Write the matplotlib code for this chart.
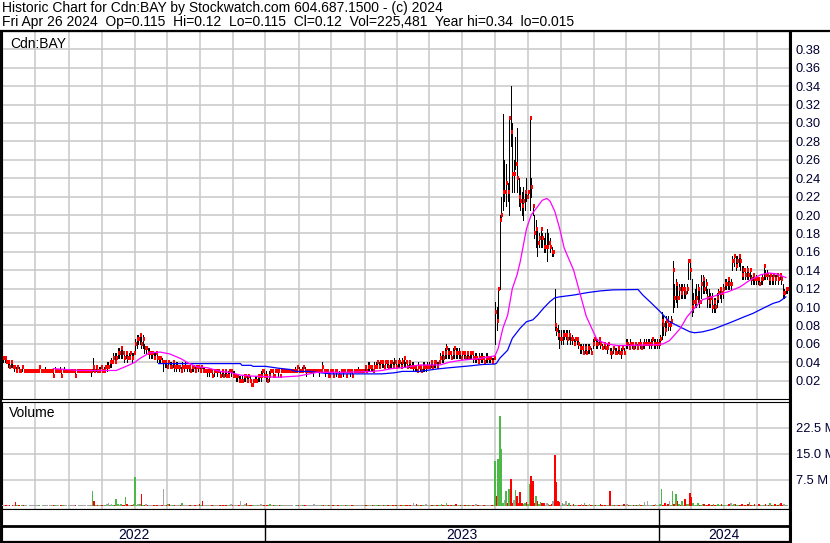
import numpy as np
import matplotlib
matplotlib.use("Agg")
import matplotlib.pyplot as plt
from matplotlib.lines import Line2D
from matplotlib.ticker import FormatStrFormatter

plt.rcParams['font.family'] = ['Liberation Sans', 'DejaVu Sans']

# daily bars, Apr 2022 -> Apr 26 2024 (one row = 10 trading days)
cl = [0.045,0.045,0.04,0.04,0.035,0.04,0.035,0.035,0.03,0.035,
      0.03,0.03,0.035,0.03,0.03,0.03,0.03,0.03,0.03,0.03,
      0.03,0.03,0.03,0.035,0.03,0.03,0.03,0.03,0.03,0.03,
      0.03,0.03,0.025,0.03,0.03,0.03,0.03,0.025,0.03,0.03,
      0.03,0.03,0.03,0.03,0.03,0.03,0.025,0.03,0.03,0.03,
      0.03,0.03,0.03,0.03,0.03,0.03,0.03,0.035,0.03,0.035,
      0.03,0.03,0.035,0.03,0.03,0.035,0.035,0.035,0.04,0.04,
      0.045,0.04,0.045,0.05,0.05,0.055,0.05,0.045,0.05,0.045,
      0.045,0.05,0.045,0.05,0.06,0.065,0.065,0.07,0.06,0.065,
      0.055,0.055,0.05,0.05,0.05,0.05,0.045,0.05,0.045,0.045,
      0.045,0.04,0.04,0.04,0.035,0.04,0.035,0.035,0.04,0.035,
      0.035,0.035,0.035,0.03,0.035,0.035,0.035,0.035,0.035,0.03,
      0.035,0.035,0.03,0.035,0.035,0.03,0.035,0.03,0.03,0.03,
      0.03,0.03,0.03,0.025,0.03,0.03,0.03,0.03,0.025,0.03,
      0.025,0.03,0.025,0.025,0.03,0.03,0.025,0.025,0.025,0.025,
      0.02,0.02,0.02,0.025,0.025,0.02,0.025,0.02,0.015,0.02,
      0.02,0.02,0.025,0.025,0.025,0.03,0.025,0.025,0.02,0.025,
      0.03,0.03,0.025,0.03,0.03,0.03,0.025,0.03,0.03,0.03,
      0.03,0.03,0.03,0.03,0.03,0.03,0.03,0.035,0.03,0.03,
      0.03,0.035,0.03,0.03,0.03,0.03,0.03,0.03,0.03,0.03,
      0.03,0.03,0.03,0.035,0.03,0.03,0.03,0.025,0.03,0.03,
      0.025,0.03,0.03,0.025,0.025,0.03,0.03,0.03,0.025,0.03,
      0.03,0.03,0.025,0.03,0.03,0.03,0.03,0.03,0.03,0.03,
      0.035,0.03,0.035,0.035,0.035,0.03,0.035,0.035,0.04,0.035,
      0.04,0.04,0.035,0.04,0.04,0.035,0.04,0.04,0.035,0.04,
      0.035,0.04,0.04,0.035,0.04,0.045,0.04,0.035,0.04,0.035,
      0.035,0.035,0.035,0.03,0.035,0.035,0.03,0.035,0.035,0.035,
      0.035,0.035,0.04,0.035,0.04,0.04,0.035,0.04,0.045,0.05,
      0.045,0.05,0.055,0.05,0.05,0.045,0.05,0.055,0.05,0.05,
      0.05,0.045,0.05,0.05,0.045,0.05,0.045,0.05,0.05,0.045,
      0.045,0.045,0.04,0.045,0.045,0.045,0.04,0.045,0.045,0.045,
      0.045,0.04,0.045,0.095,0.085,0.12,0.195,0.2,0.225,0.225,
      0.235,0.225,0.305,0.29,0.245,0.245,0.255,0.24,0.22,0.215,
      0.21,0.215,0.225,0.22,0.225,0.305,0.23,0.21,0.18,0.185,
      0.17,0.175,0.185,0.175,0.165,0.165,0.165,0.17,0.165,0.16,
      0.16,0.08,0.075,0.07,0.065,0.065,0.07,0.07,0.07,0.065,
      0.07,0.065,0.065,0.06,0.065,0.065,0.06,0.055,0.055,0.05,
      0.055,0.05,0.055,0.055,0.05,0.06,0.065,0.06,0.06,0.065,
      0.06,0.055,0.06,0.055,0.055,0.06,0.05,0.05,0.055,0.05,
      0.05,0.055,0.05,0.05,0.055,0.05,0.06,0.06,0.055,0.06,
      0.06,0.055,0.06,0.055,0.06,0.06,0.055,0.06,0.06,0.06,
      0.06,0.06,0.06,0.065,0.06,0.06,0.06,0.06,0.065,0.085,
      0.08,0.075,0.085,0.08,0.08,0.085,0.14,0.11,0.125,0.11,
      0.12,0.115,0.12,0.12,0.115,0.12,0.15,0.14,0.1,0.105,
      0.105,0.11,0.12,0.105,0.125,0.13,0.12,0.125,0.11,0.105,
      0.11,0.1,0.105,0.1,0.11,0.115,0.12,0.115,0.12,0.125,
      0.125,0.13,0.125,0.125,0.15,0.155,0.145,0.15,0.155,0.15,
      0.135,0.14,0.135,0.14,0.135,0.14,0.13,0.135,0.13,0.13,
      0.13,0.125,0.13,0.13,0.145,0.135,0.135,0.13,0.135,0.13,
      0.135,0.13,0.135,0.13,0.135,0.13,0.115,0.115,0.12,0.12]

hi = [0.045,0.045,0.045,0.04,0.04,0.04,0.04,0.035,0.035,0.035,
      0.035,0.03,0.035,0.03,0.03,0.03,0.03,0.03,0.03,0.03,
      0.03,0.03,0.03,0.035,0.03,0.03,0.03,0.035,0.03,0.03,
      0.03,0.03,0.03,0.035,0.03,0.03,0.035,0.03,0.03,0.035,
      0.03,0.03,0.03,0.03,0.03,0.03,0.03,0.03,0.03,0.03,
      0.03,0.03,0.03,0.03,0.03,0.03,0.03,0.045,0.035,0.035,
      0.035,0.035,0.035,0.035,0.035,0.035,0.04,0.04,0.04,0.045,
      0.05,0.05,0.05,0.055,0.055,0.055,0.055,0.05,0.05,0.05,
      0.05,0.05,0.05,0.05,0.065,0.07,0.07,0.07,0.07,0.07,
      0.06,0.055,0.055,0.055,0.05,0.05,0.05,0.05,0.05,0.045,
      0.045,0.045,0.04,0.04,0.04,0.04,0.04,0.04,0.04,0.04,
      0.04,0.04,0.035,0.035,0.04,0.035,0.04,0.035,0.035,0.035,
      0.035,0.035,0.035,0.035,0.035,0.035,0.035,0.035,0.035,0.03,
      0.03,0.03,0.03,0.03,0.03,0.03,0.03,0.03,0.03,0.03,
      0.03,0.03,0.03,0.03,0.03,0.03,0.03,0.03,0.025,0.025,
      0.025,0.025,0.025,0.025,0.025,0.025,0.025,0.025,0.02,0.02,
      0.025,0.025,0.025,0.025,0.03,0.03,0.03,0.03,0.025,0.03,
      0.03,0.03,0.03,0.03,0.03,0.03,0.025,0.03,0.03,0.03,
      0.03,0.03,0.03,0.03,0.03,0.03,0.035,0.035,0.035,0.03,
      0.035,0.035,0.035,0.03,0.03,0.03,0.03,0.03,0.03,0.03,
      0.03,0.03,0.03,0.04,0.03,0.03,0.03,0.03,0.03,0.03,
      0.03,0.03,0.03,0.025,0.03,0.03,0.03,0.03,0.025,0.03,
      0.03,0.03,0.03,0.03,0.03,0.03,0.035,0.03,0.03,0.03,
      0.035,0.035,0.04,0.04,0.035,0.035,0.04,0.04,0.04,0.04,
      0.04,0.04,0.04,0.04,0.04,0.04,0.04,0.04,0.04,0.045,
      0.04,0.04,0.045,0.04,0.045,0.045,0.04,0.04,0.04,0.04,
      0.04,0.04,0.035,0.035,0.04,0.035,0.035,0.04,0.04,0.035,
      0.04,0.04,0.04,0.04,0.04,0.04,0.04,0.04,0.05,0.05,
      0.05,0.055,0.06,0.055,0.055,0.05,0.055,0.055,0.055,0.055,
      0.055,0.05,0.05,0.05,0.05,0.05,0.05,0.05,0.05,0.05,
      0.05,0.05,0.045,0.05,0.05,0.05,0.045,0.05,0.05,0.045,
      0.045,0.045,0.045,0.105,0.1,0.12,0.2,0.22,0.31,0.26,
      0.255,0.235,0.305,0.34,0.3,0.26,0.285,0.295,0.24,0.23,
      0.225,0.23,0.225,0.24,0.225,0.305,0.24,0.21,0.2,0.195,
      0.185,0.18,0.185,0.18,0.175,0.18,0.185,0.18,0.175,0.165,
      0.16,0.12,0.08,0.08,0.075,0.075,0.075,0.075,0.075,0.075,
      0.075,0.07,0.07,0.065,0.065,0.065,0.065,0.06,0.06,0.06,
      0.06,0.06,0.06,0.06,0.055,0.065,0.065,0.065,0.065,0.065,
      0.065,0.06,0.06,0.06,0.06,0.06,0.055,0.055,0.055,0.055,
      0.055,0.055,0.055,0.055,0.055,0.055,0.065,0.065,0.06,0.065,
      0.06,0.06,0.06,0.06,0.06,0.065,0.06,0.06,0.065,0.065,
      0.065,0.065,0.065,0.065,0.065,0.065,0.065,0.065,0.07,0.095,
      0.09,0.085,0.09,0.09,0.085,0.09,0.15,0.125,0.13,0.125,
      0.125,0.125,0.125,0.125,0.12,0.125,0.15,0.15,0.13,0.115,
      0.12,0.125,0.125,0.12,0.135,0.135,0.13,0.13,0.12,0.12,
      0.115,0.115,0.11,0.11,0.115,0.12,0.12,0.12,0.125,0.13,
      0.13,0.13,0.13,0.13,0.155,0.155,0.155,0.155,0.155,0.155,
      0.145,0.145,0.14,0.145,0.14,0.14,0.135,0.135,0.135,0.135,
      0.13,0.13,0.13,0.135,0.145,0.14,0.14,0.135,0.135,0.135,
      0.135,0.135,0.135,0.135,0.135,0.135,0.125,0.12,0.12,0.12]

lo = [0.04,0.04,0.04,0.035,0.035,0.035,0.035,0.03,0.03,0.03,
      0.03,0.03,0.03,0.03,0.03,0.03,0.03,0.03,0.03,0.03,
      0.03,0.03,0.03,0.03,0.03,0.03,0.03,0.03,0.03,0.03,
      0.03,0.03,0.025,0.03,0.03,0.03,0.03,0.025,0.03,0.03,
      0.03,0.03,0.03,0.03,0.03,0.03,0.025,0.03,0.03,0.03,
      0.03,0.03,0.03,0.03,0.03,0.03,0.025,0.03,0.03,0.03,
      0.03,0.03,0.03,0.03,0.03,0.03,0.03,0.035,0.035,0.035,
      0.04,0.04,0.04,0.045,0.045,0.045,0.045,0.04,0.045,0.04,
      0.045,0.045,0.04,0.045,0.05,0.055,0.06,0.06,0.055,0.055,
      0.05,0.05,0.05,0.045,0.045,0.045,0.045,0.045,0.04,0.04,
      0.04,0.04,0.03,0.035,0.035,0.035,0.035,0.035,0.035,0.03,
      0.03,0.035,0.03,0.03,0.03,0.03,0.035,0.03,0.03,0.03,
      0.03,0.03,0.03,0.03,0.03,0.03,0.03,0.03,0.03,0.03,
      0.025,0.025,0.03,0.025,0.025,0.03,0.025,0.03,0.025,0.025,
      0.025,0.025,0.025,0.025,0.025,0.025,0.025,0.025,0.02,0.02,
      0.02,0.02,0.02,0.02,0.02,0.02,0.02,0.02,0.015,0.015,
      0.02,0.02,0.02,0.02,0.02,0.025,0.025,0.02,0.02,0.02,
      0.025,0.03,0.025,0.03,0.03,0.025,0.025,0.03,0.03,0.03,
      0.03,0.03,0.03,0.03,0.03,0.03,0.03,0.03,0.03,0.03,
      0.03,0.03,0.03,0.025,0.03,0.03,0.03,0.025,0.03,0.03,
      0.03,0.025,0.03,0.03,0.03,0.025,0.03,0.025,0.03,0.03,
      0.025,0.03,0.025,0.025,0.025,0.03,0.025,0.03,0.025,0.03,
      0.03,0.025,0.025,0.03,0.03,0.03,0.03,0.03,0.03,0.03,
      0.03,0.03,0.03,0.03,0.03,0.03,0.03,0.035,0.035,0.035,
      0.035,0.035,0.035,0.035,0.035,0.035,0.035,0.035,0.035,0.035,
      0.035,0.035,0.035,0.035,0.035,0.035,0.035,0.035,0.035,0.035,
      0.035,0.03,0.03,0.03,0.03,0.03,0.03,0.03,0.03,0.03,
      0.035,0.035,0.035,0.035,0.035,0.035,0.035,0.035,0.04,0.04,
      0.04,0.045,0.045,0.045,0.045,0.045,0.045,0.045,0.045,0.045,
      0.045,0.045,0.045,0.045,0.045,0.045,0.045,0.045,0.045,0.04,
      0.04,0.04,0.04,0.04,0.04,0.04,0.04,0.04,0.04,0.04,
      0.04,0.04,0.04,0.06,0.075,0.085,0.12,0.195,0.205,0.215,
      0.21,0.215,0.2,0.275,0.225,0.225,0.25,0.225,0.21,0.205,
      0.2,0.195,0.205,0.215,0.22,0.205,0.22,0.2,0.175,0.165,
      0.155,0.165,0.165,0.165,0.16,0.16,0.15,0.165,0.16,0.155,
      0.155,0.075,0.07,0.065,0.055,0.06,0.06,0.065,0.065,0.06,
      0.065,0.06,0.06,0.06,0.06,0.06,0.055,0.05,0.05,0.05,
      0.05,0.05,0.05,0.05,0.05,0.055,0.06,0.055,0.055,0.06,
      0.055,0.055,0.055,0.055,0.05,0.055,0.05,0.045,0.05,0.05,
      0.05,0.05,0.05,0.045,0.05,0.05,0.055,0.055,0.055,0.055,
      0.055,0.055,0.055,0.055,0.055,0.055,0.055,0.055,0.055,0.06,
      0.06,0.055,0.055,0.06,0.055,0.055,0.055,0.055,0.06,0.065,
      0.07,0.07,0.075,0.075,0.075,0.08,0.095,0.1,0.105,0.1,
      0.11,0.11,0.11,0.11,0.11,0.115,0.13,0.13,0.09,0.095,
      0.1,0.1,0.105,0.1,0.11,0.115,0.115,0.115,0.1,0.1,
      0.1,0.095,0.095,0.095,0.1,0.105,0.11,0.105,0.11,0.12,
      0.12,0.12,0.12,0.12,0.14,0.145,0.14,0.145,0.145,0.14,
      0.13,0.13,0.13,0.13,0.13,0.13,0.125,0.125,0.125,0.125,
      0.125,0.125,0.125,0.125,0.13,0.13,0.13,0.125,0.125,0.125,
      0.125,0.125,0.13,0.125,0.13,0.125,0.11,0.11,0.115,0.115]

# volume in millions of shares
vol = [0.3,0.2,0.2,0.3,0.2,0.1,0.2,0.3,1.1,0.2,
       0.2,0.1,0.3,0.2,0.2,0.3,0.1,0.2,0.2,0.3,
       0.2,0.2,0.3,0.2,0.1,0.2,0.4,0.2,0.2,0.1,
       0.2,0.3,0.2,0.2,0.4,0.2,0.1,0.2,0.3,0.2,
       0.2,0.1,0.2,0.2,0.3,0.2,0.2,0.1,0.2,0.2,
       0.2,0.3,0.2,0.1,0.2,0.3,0.2,4.2,1.3,0.3,
       0.2,0.3,0.2,0.4,0.2,0.3,0.6,0.9,0.3,0.5,
       0.4,0.3,2.1,0.6,0.3,0.5,0.4,0.3,2.5,0.6,
       0.3,0.4,0.3,0.5,8.3,0.4,0.6,0.7,3.5,0.4,
       0.3,0.5,0.3,0.2,0.4,0.3,0.2,0.3,0.2,0.4,
       0.3,0.2,5.0,0.3,0.4,0.6,0.7,0.3,0.2,0.3,
       0.2,0.3,0.2,0.3,0.8,0.3,0.2,0.3,0.2,0.3,
       0.2,0.3,0.4,0.2,0.3,0.6,0.3,1.3,0.4,0.2,
       0.2,0.3,0.2,0.3,0.2,0.4,0.2,0.3,0.2,0.3,
       0.4,0.3,0.2,0.3,0.2,0.5,0.3,0.2,0.4,0.3,
       0.2,1.3,0.3,0.4,0.5,0.8,0.4,0.3,0.2,0.3,
       0.2,0.3,0.2,0.4,0.6,0.3,0.2,0.3,0.2,0.3,
       0.6,0.2,0.3,0.2,0.3,0.2,0.2,0.3,0.2,0.2,
       0.3,0.2,0.2,0.3,0.2,0.1,0.2,0.3,0.2,0.2,
       0.3,0.2,0.3,0.2,0.2,0.3,0.2,0.2,0.7,0.2,
       0.2,0.3,0.2,0.3,0.2,0.2,0.3,0.2,0.2,0.3,
       0.2,0.2,0.3,0.2,0.3,0.2,0.2,0.3,0.2,0.2,
       0.3,0.2,0.2,0.3,0.2,0.4,0.2,0.3,0.2,0.4,
       0.2,0.3,0.2,0.4,0.3,0.2,0.3,0.2,0.3,0.2,
       0.3,0.2,0.3,0.2,0.4,0.2,0.3,0.2,0.2,0.3,
       0.2,0.3,0.2,0.3,0.2,0.4,0.3,0.2,0.3,0.2,
       0.3,0.8,0.2,0.5,0.3,0.2,0.3,0.2,0.3,0.5,
       0.2,0.3,0.2,0.4,0.2,0.3,0.2,0.3,0.3,0.5,
       0.3,0.4,0.9,0.3,0.4,0.3,0.2,0.3,0.6,0.3,
       0.2,0.3,0.4,0.2,0.3,0.2,0.3,0.2,0.3,0.2,
       0.3,0.5,0.2,0.3,0.2,0.3,0.2,0.3,0.2,0.3,
       0.3,0.2,0.4,13.1,3.0,13.5,26.0,16.3,1.0,1.8,
       4.4,0.8,4.9,7.9,1.0,1.8,4.7,2.8,0.9,4.0,
       0.8,0.6,0.9,1.1,0.7,6.3,8.6,7.3,0.8,3.0,
       1.5,0.6,1.2,0.8,0.9,0.4,0.9,0.5,0.4,0.6,
       1.3,14.6,6.9,1.5,1.1,0.4,0.9,0.5,1.5,0.4,
       0.8,0.3,0.4,0.6,0.3,0.2,0.4,0.3,0.6,0.3,
       0.8,0.4,0.3,0.6,0.3,0.2,0.3,0.4,0.2,0.3,
       0.5,0.3,0.2,0.3,0.2,0.3,4.2,0.3,0.4,0.2,
       0.3,0.2,0.4,0.3,0.2,0.5,0.3,0.7,0.2,0.3,
       0.2,0.3,0.4,0.2,0.3,0.7,0.3,0.4,1.1,0.3,
       1.5,0.3,0.4,0.2,0.3,0.6,0.4,0.3,0.5,5.0,
       0.4,0.8,0.3,0.6,1.4,0.3,4.4,0.5,3.5,1.3,
       0.6,0.3,1.5,0.4,2.1,0.5,0.6,3.7,2.5,0.8,
       0.4,0.3,1.0,0.4,0.3,0.5,0.6,0.3,0.4,0.5,
       0.3,0.4,0.6,0.3,0.4,0.5,0.3,0.7,0.4,0.3,
       0.4,0.3,0.5,0.8,0.4,0.5,0.6,0.3,0.4,0.3,
       0.5,0.3,0.4,0.3,0.6,1.2,0.4,0.3,0.5,0.3,
       0.4,0.6,0.3,0.4,0.3,0.5,0.4,0.3,0.8,0.4,
       0.3,0.5,0.4,0.3,0.6,0.9,0.4,0.5,0.3,0.2]

# moving averages (trading-day index, price)
ma_fast_day = [32, 49, 72, 79, 84, 87, 93, 100, 106, 113, 118, 123, 130, 138, 144, 151, 157, 165, 175, 188,
               194, 200, 218, 235, 241, 247, 254, 265, 278, 284, 291, 297, 303, 310, 313, 315, 318, 321, 324, 327,
               329, 331, 333, 336, 340, 343, 346, 348, 351, 354, 357, 363, 367, 371, 375, 378, 384, 391, 416, 420,
               424, 431, 435, 440, 445, 451, 456, 462, 469, 475, 482, 487, 492, 495, 498]
ma_fast_val = [0.033, 0.031, 0.031, 0.036, 0.04, 0.044, 0.05, 0.051, 0.049, 0.044, 0.039, 0.035, 0.034, 0.03, 0.029, 0.026, 0.025, 0.0245, 0.0236, 0.025,
               0.027, 0.029, 0.029, 0.03, 0.031, 0.033, 0.034, 0.037, 0.037, 0.04, 0.042, 0.043, 0.044, 0.046, 0.047, 0.055, 0.077, 0.091, 0.12, 0.135,
               0.149, 0.167, 0.185, 0.2, 0.209, 0.216, 0.218, 0.215, 0.204, 0.186, 0.164, 0.14, 0.115, 0.09, 0.075, 0.064, 0.06, 0.058, 0.059, 0.06,
               0.0635, 0.077, 0.089, 0.099, 0.108, 0.111, 0.114, 0.117, 0.122, 0.129, 0.135, 0.137, 0.136, 0.134, 0.132]
ma_slow_day = [99, 151, 152, 158, 159, 167, 175, 183, 186, 195, 202, 209, 241, 249, 254, 265, 276, 284, 297, 305,
               313, 314, 316, 321, 324, 329, 333, 337, 340, 344, 348, 351, 354, 363, 372, 380, 388, 404, 407, 412,
               418, 424, 431, 437, 440, 445, 452, 458, 464, 471, 477, 484, 490, 494, 498]
ma_slow_val = [0.0385, 0.0385, 0.0366, 0.0366, 0.0355, 0.0355, 0.0335, 0.032, 0.03, 0.03, 0.0285, 0.0273, 0.0273, 0.0285, 0.03, 0.03, 0.0326, 0.034, 0.036, 0.0375,
               0.038, 0.039, 0.0443, 0.053, 0.066, 0.077, 0.084, 0.086, 0.091, 0.099, 0.106, 0.11, 0.111, 0.113, 0.1157, 0.1175, 0.1186, 0.119, 0.113, 0.105,
               0.095, 0.084, 0.078, 0.073, 0.072, 0.073, 0.076, 0.08, 0.084, 0.089, 0.093, 0.099, 0.104, 0.106, 0.111]

# month starts (trading-day index) and years
month_days = [20.4, 42, 63, 84, 104.3, 125.3, 146.3, 166.7, 188.3, 208.7, 230.3, 250.6,
              271, 292, 313, 334, 355, 376, 396.3, 417.3, 437.6, 458.7, 479.6]
year_edges = [-0.64, 166.7, 417.3, 500]
year_labels = ['2022', '2023', '2024']

title1 = 'Historic Chart for Cdn:BAY by Stockwatch.com 604.687.1500 - (c) 2024'
title2 = 'Fri Apr 26 2024  Op=0.115  Hi=0.12  Lo=0.115  Cl=0.12  Vol=225,481  Year hi=0.34  lo=0.015'

days = np.arange(len(cl))
cl_a = np.array(cl)
chg = np.diff(cl_a, prepend=cl_a[0])
vol_colors = np.where(chg > 0, '#4cb848', np.where(chg < 0, '#ff0000', '#a4a4a4'))

W, H = 830, 543
fig = plt.figure(figsize=(W / 100, H / 100), dpi=100)
fig.patch.set_facecolor('white')

def px_axes(x0, y0, x1, y1):
    return fig.add_axes([x0 / W, 1 - y1 / H, (x1 - x0) / W, (y1 - y0) / H])

def fig_line(x0, y0, x1, y1, lw):
    fig.add_artist(Line2D([x0 / W, x1 / W], [1 - y0 / H, 1 - y1 / H], color='black',
                          lw=lw, transform=fig.transFigure, solid_capstyle='butt'))

grid_kw = dict(color='#c8c8c8', lw=1.1)
xlim = (-0.64, 500.0)
lab_col = '#000033'

# price panel
ax = px_axes(2, 31, 789, 399)
ax.set_xlim(*xlim)
ax.set_ylim(0, 0.40)
ax.set_xticks(month_days)
ax.set_yticks(np.arange(0.02, 0.381, 0.02))
ax.yaxis.set_major_formatter(FormatStrFormatter('%.2f'))
ax.grid(True, **grid_kw)
ax.set_axisbelow(True)
ax.tick_params(axis='x', length=0, labelbottom=False)
ax.yaxis.tick_right()
ax.tick_params(axis='y', length=0, pad=5, labelsize=9.3, labelcolor=lab_col)
for s in ax.spines.values():
    s.set_linewidth(0.8)

ax.vlines(days, lo, hi, color='black', lw=0.72, antialiased=False, zorder=3)
ax.hlines(cl, days + 0.05, days + 1.35, color='red', lw=1.5, antialiased=False, zorder=4)
ax.plot(ma_slow_day, ma_slow_val, color='#0000ff', lw=0.9, zorder=5)
ax.plot(ma_fast_day, ma_fast_val, color='#ff00ff', lw=0.9, zorder=5)
ax.text(8 / 787, 1 - 13 / 368, 'Cdn:BAY', transform=ax.transAxes, va='center', ha='left',
        fontsize=10, color='black')

# volume panel
axv = px_axes(2, 402, 789, 509)
axv.set_xlim(*xlim)
axv.set_ylim(-0.87, 30)
axv.set_xticks(month_days)
axv.set_yticks([7.5, 15, 22.5])
axv.set_yticklabels(['7.5 M', '15.0 M', '22.5 M'])
axv.grid(True, **grid_kw)
axv.set_axisbelow(True)
axv.tick_params(axis='x', length=0, labelbottom=False)
axv.yaxis.tick_right()
axv.tick_params(axis='y', length=0, pad=5, labelsize=9.3, labelcolor=lab_col)
for s in axv.spines.values():
    s.set_linewidth(0.8)
axv.bar(days, vol, width=1.0, color=vol_colors, linewidth=0, antialiased=False, zorder=3)
axv.text(7 / 787, 1 - 11 / 107, 'Volume', transform=axv.transAxes, va='center', ha='left',
         fontsize=10, color='black')

# year strip
axy = px_axes(2, 509, 789, 542)
axy.set_xlim(*xlim)
axy.set_ylim(0, 1)
axy.set_xticks([])
axy.set_yticks([])
for s in axy.spines.values():
    s.set_linewidth(0.8)
axy.vlines(year_edges[1:-1], 0, 1, color='black', lw=1)
axy.axhline(0.47, color='black', lw=2)
for i, lab in enumerate(year_labels):
    axy.text((year_edges[i] + year_edges[i + 1]) / 2, 0.22, lab, ha='center', va='center',
             fontsize=10, color=lab_col)

# frame lines
fig_line(0, 30.5, W, 30.5, 1.6)
fig_line(789.5, 30, 789.5, H, 2.2)
fig_line(1, 30, 1, H, 1.4)
fig_line(0, 542, 790, 542, 1.6)

fig.text(2 / W, 1 - 1 / H, title1, va='top', ha='left', fontsize=10, color='black')
fig.text(2 / W, 1 - 15 / H, title2, va='top', ha='left', fontsize=10, color='black')

fig.savefig('out.png', dpi=100)
